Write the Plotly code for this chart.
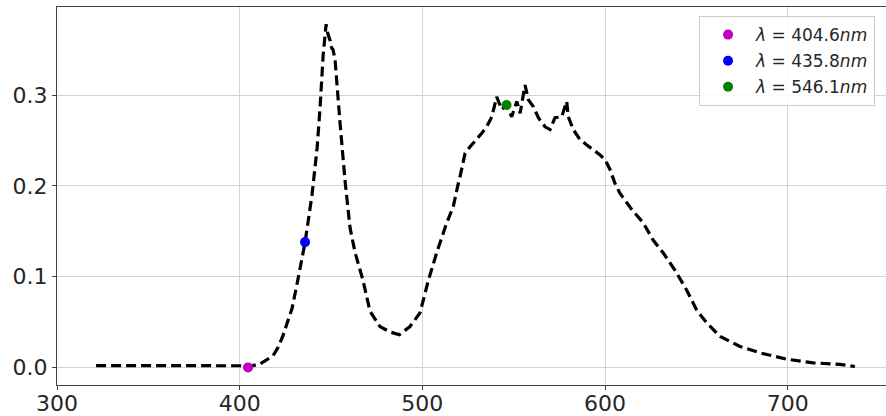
import plotly.graph_objects as go

# Spectrum (wavelength in nm, intensity)
wavelength = [321.4, 330, 340, 350, 360, 370, 380, 390, 400, 404.6, 408, 411.2, 414.5,
              418.3, 421, 423.7, 426, 428.7, 432, 435.8, 439.6, 442.4, 444, 445.7, 447.3,
              448.2, 449.5, 450.3, 451.1, 452.2, 454.9, 457.7, 460.4, 463.1, 467.5, 471.3,
              476.8, 482.3, 487.4, 493.2, 498.7, 503.3, 507.8, 513.3, 516.9, 517.9, 519.7,
              520.6, 523.4, 526.1, 529.8, 532.5, 535.2, 538.0, 540.7, 543.5, 546.1, 548.9,
              551.7, 553.5, 556.2, 558.0, 560.8, 563.5, 567.2, 569.9, 572.6, 576.3, 579.0,
              579.9, 582.6, 586.3, 590.0, 593.6, 597.3, 600.0, 602.7, 605.4, 608.1, 614.6,
              621.0, 626.4, 631.9, 638.3, 644.7, 650.2, 655.7, 663.0, 673.9, 684.9, 699.5,
              714.0, 728.6, 736.8]
intensity = [0.002, 0.002, 0.0015, 0.002, 0.0018, 0.002, 0.0015, 0.002, 0.0018, 0.0005, 0.002,
             0.004, 0.008, 0.013, 0.022, 0.035, 0.049, 0.065, 0.098, 0.138, 0.19, 0.242, 0.286,
             0.344, 0.378, 0.368, 0.360, 0.352, 0.350, 0.339, 0.27, 0.205, 0.154, 0.127, 0.096,
             0.062, 0.045, 0.039, 0.036, 0.045, 0.06, 0.096, 0.126, 0.159, 0.177, 0.188, 0.203,
             0.210, 0.236, 0.243, 0.251, 0.258, 0.265, 0.276, 0.298, 0.284, 0.289, 0.276,
             0.293, 0.280, 0.311, 0.295, 0.287, 0.275, 0.265, 0.262, 0.275, 0.276, 0.293,
             0.276, 0.262, 0.251, 0.245, 0.240, 0.234, 0.229, 0.218, 0.203, 0.192, 0.174,
             0.159, 0.140, 0.126, 0.107, 0.085, 0.063, 0.049, 0.034, 0.023, 0.016, 0.009,
             0.005, 0.0034, 0.001]

# Mercury lines marked on the curve
line_wavelengths = [404.6, 435.8, 546.1]
line_intensities = [0.0, 0.138, 0.289]
line_labels = ["<i>λ</i> = 404.6<i>nm</i>", "<i>λ</i> = 435.8<i>nm</i>", "<i>λ</i> = 546.1<i>nm</i>"]
line_colors = ["#bf00bf", "#0000ff", "#008000"]

x_ticks = [300, 400, 500, 600, 700]
y_ticks = [0.0, 0.1, 0.2, 0.3]
y_ticklabels = ["0.0", "0.1", "0.2", "0.3"]

fig = go.Figure()
fig.add_trace(go.Scatter(
    x=wavelength, y=intensity, mode="lines",
    line=dict(color="black", width=3.2, dash="10px,5px"),
    showlegend=False, hoverinfo="skip"))

for xw, yi, lab, col in zip(line_wavelengths, line_intensities, line_labels, line_colors):
    fig.add_trace(go.Scatter(
        x=[xw], y=[yi], mode="markers", name=lab, legendgroup=lab,
        marker=dict(color=col, size=10, line=dict(width=0))))

fig.update_layout(
    width=886, height=416,
    margin=dict(l=57, r=0, t=7, b=31, autoexpand=False),
    paper_bgcolor="white", plot_bgcolor="white",
    font=dict(family="DejaVu Sans", color="#262626"),
    legend=dict(
        x=0.7745, xanchor="left", y=0.976, yanchor="top",
        bgcolor="rgba(255,255,255,0.85)", bordercolor="#cccccc", borderwidth=1,
        font=dict(size=17, family="DejaVu Sans", color="#262626"),
        itemwidth=46, tracegroupgap=1),
    xaxis=dict(
        range=[300, 753.8], tickvals=x_ticks, ticktext=[str(v) for v in x_ticks],
        showgrid=True, gridcolor="#d3d3d3", gridwidth=1, zeroline=False,
        showline=True, linecolor="#444444", linewidth=1, mirror=True,
        ticks="outside", ticklen=4, tickcolor="#444444", automargin=False,
        ticklabelstandoff=-5,
        tickfont=dict(size=22, family="DejaVu Sans", color="#262626")),
    yaxis=dict(
        range=[-0.0194, 0.397], tickvals=y_ticks, ticktext=y_ticklabels,
        showgrid=True, gridcolor="#d3d3d3", gridwidth=1, zeroline=False,
        showline=True, linecolor="#444444", linewidth=1, mirror=False,
        ticks="outside", ticklen=4, tickcolor="#444444", automargin=False,
        tickfont=dict(size=22, family="DejaVu Sans", color="#262626")),
)

fig.write_html("out.html", config={"displayModeBar": False},
               post_script="document.body.style.margin='0';")
